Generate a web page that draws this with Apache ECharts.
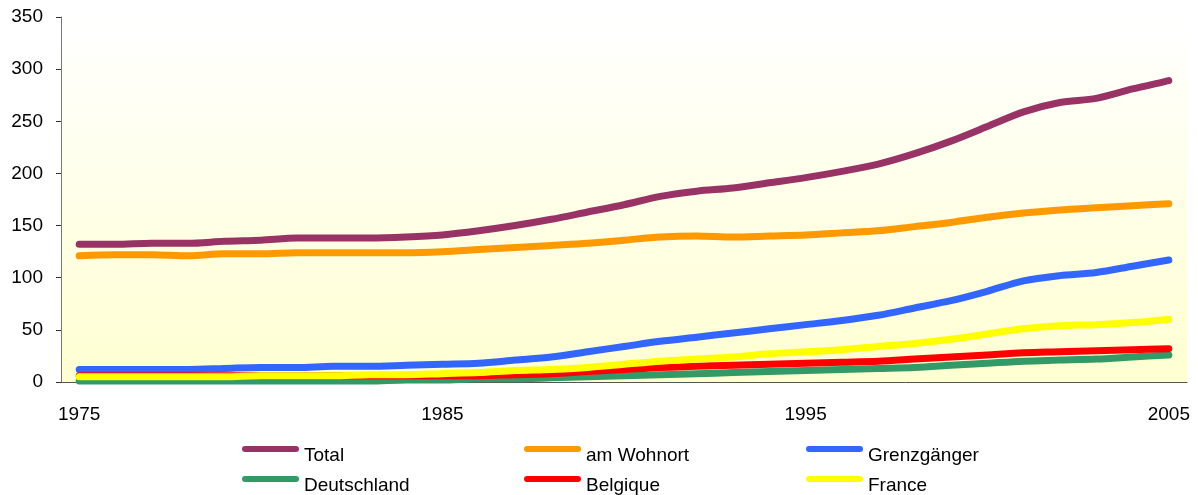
<!DOCTYPE html>
<html>
<head>
<meta charset="utf-8">
<style>
  html, body { margin: 0; padding: 0; background: #fff; }
  #chart { width: 1198px; height: 495px; }
</style>
<script src="https://cdn.jsdelivr.net/npm/echarts@6/dist/echarts.min.js"></script>
</head>
<body>
<div id="chart"></div>
<script>
// years 1975..2005
const years = ['1975', '1976', '1977', '1978', '1979', '1980', '1981', '1982', '1983', '1984',
  '1985', '1986', '1987', '1988', '1989', '1990', '1991', '1992', '1993', '1994',
  '1995', '1996', '1997', '1998', '1999', '2000', '2001', '2002', '2003', '2004', '2005']

const total = [132, 132, 133, 133, 135, 136, 138, 138, 138, 139,
  141, 145, 150, 156, 163, 170, 178, 183, 186, 191,
  196, 202, 209, 219, 231, 245, 259, 268, 272, 281, 289]
const amWohnort = [121, 122, 122, 121, 123, 123, 124, 124, 124, 124,
  125, 127, 129, 131, 133, 136, 139, 140, 139, 140,
  141, 143, 145, 149, 153, 158, 162, 165, 167, 169, 171]
const grenzgaenger = [12, 12, 12, 12, 13, 14, 14, 15, 15, 16,
  17, 18, 21, 24, 29, 34, 39, 43, 47, 51,
  55, 59, 64, 71, 78, 87, 97, 102, 105, 111, 117]
const deutschland = [1, 1, 1, 1, 1, 1, 1, 1, 1, 2,
  2, 3, 3, 4, 5, 6, 7, 8, 9, 10,
  11, 12, 13, 14, 16, 18, 20, 21, 22, 24, 26]
const belgique = [6, 6, 6, 6, 6, 6, 6, 6, 6, 6,
  6, 6, 7, 8, 10, 12, 14, 15, 16, 17,
  18, 19, 20, 22, 24, 26, 28, 29, 30, 31, 32]
const france = [5, 5, 5, 5, 5, 6, 6, 6, 7, 7,
  8, 9, 11, 12, 14, 17, 20, 22, 24, 27,
  29, 31, 34, 37, 41, 46, 51, 54, 55, 57, 60]

const names = ['Total', 'am Wohnort', 'Grenzgänger', 'Deutschland', 'Belgique', 'France']
const values = [total, amWohnort, grenzgaenger, deutschland, belgique, france]
const colors = ['#993366', '#ff9900', '#3366ff', '#339966', '#ff0000', '#ffff00']

const font = '"Liberation Sans", Arial, sans-serif'
const legendLeft = [242, 524, 806]
const legendTop = [446, 476]

const chart = echarts.init(document.getElementById('chart'))
chart.setOption({
  animation: false,
  color: colors,
  grid: {
    left: 61,
    right: 11,
    top: 17,
    bottom: 113,
    show: true,
    borderWidth: 0,
    backgroundColor: new echarts.graphic.LinearGradient(0, 0, 0, 1, [
      { offset: 0, color: '#ffffff' },
      { offset: 1, color: '#ffffd2' },
    ]),
  },
  legend: names.map((n, i) => ({
    data: [n],
    left: legendLeft[i % 3],
    top: legendTop[Math.floor(i / 3)],
    padding: 0,
    icon: 'path://M3,0 L54,0 A3,3 0 0 1 54,6 L3,6 A3,3 0 0 1 3,0 Z',
    itemWidth: 57,
    itemHeight: 7,
    itemGap: 0,
    formatter: '{a|{name}}',
    textStyle: {
      fontFamily: font,
      fontSize: 19,
      color: '#000',
      rich: {
        a: { fontFamily: font, fontSize: 19, color: '#000', padding: [14, 0, 0, 0] },
      },
    },
  })),
  xAxis: {
    type: 'category',
    data: years,
    boundaryGap: true,
    axisLine: { lineStyle: { color: '#555', width: 1 } },
    axisTick: { interval: 0, length: 6, lineStyle: { color: '#333' } },
    axisLabel: {
      interval: 9,
      margin: 23,
      fontFamily: font,
      fontSize: 19,
      color: '#000',
    },
    splitLine: { show: false },
  },
  yAxis: {
    type: 'value',
    min: 0,
    max: 350,
    interval: 50,
    axisLine: { show: true, lineStyle: { color: '#777', width: 1 } },
    axisTick: { show: true, length: 5, lineStyle: { color: '#333' } },
    axisLabel: {
      margin: 18,
      fontFamily: font,
      fontSize: 19,
      color: '#000',
    },
    splitLine: { show: false },
  },
  series: names.map((n, i) => ({
    name: n,
    type: 'line',
    data: values[i],
    smooth: 0.3,
    symbol: 'none',
    lineStyle: { width: 7, color: colors[i], cap: 'round', join: 'round' },
    z: 2 + i,
  })),
})
</script>
</body>
</html>
